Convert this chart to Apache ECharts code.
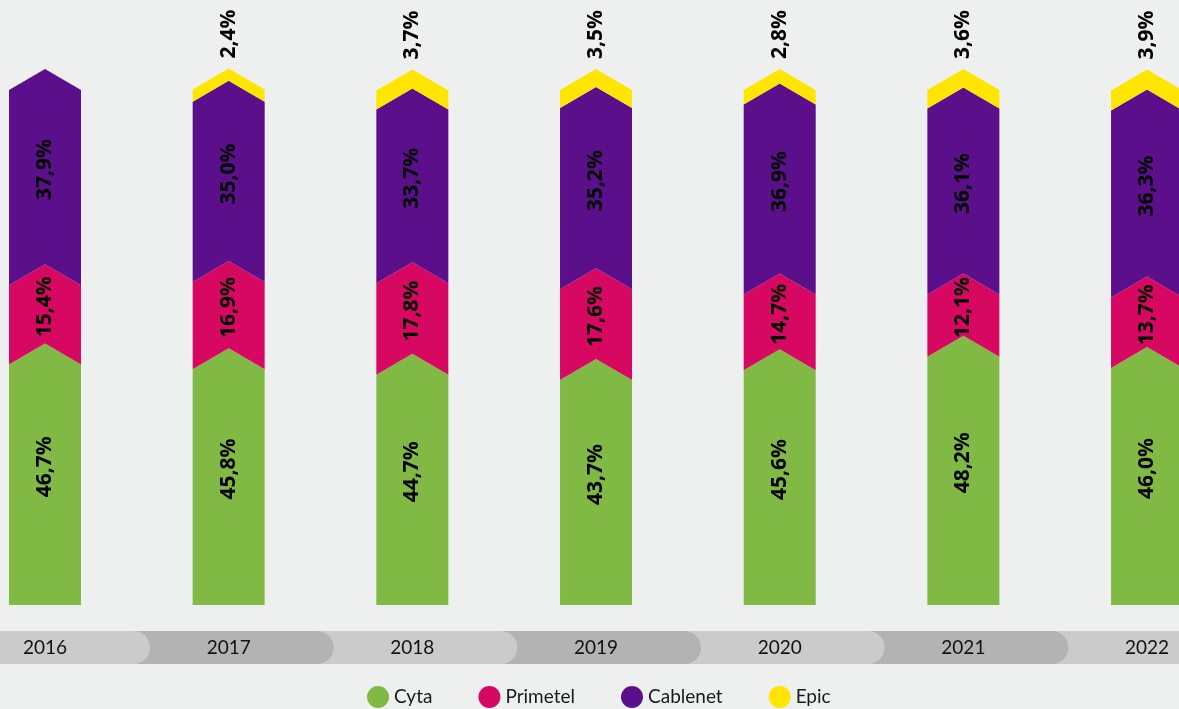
<!DOCTYPE html>
<html>
<head>
<meta charset="utf-8">
<script src="https://cdn.jsdelivr.net/npm/echarts@6/dist/echarts.min.js"></script>
<style>
html,body{margin:0;padding:0;background:#eef0ef;}
#chart{width:1179px;height:709px;}
</style>
</head>
<body>
<div id="chart"></div>
<script>
const categories = ['2016','2017','2018','2019','2020','2021','2022'];
const seriesNames = ['Cyta','Primetel','Cablenet','Epic'];
const cyta     = [46.7, 45.8, 44.7, 43.7, 45.6, 48.2, 46.0];
const primetel = [15.4, 16.9, 17.8, 17.6, 14.7, 12.1, 13.7];
const cablenet = [37.9, 35.0, 33.7, 35.2, 36.9, 36.1, 36.3];
const epic     = [0,    2.4,  3.7,  3.5,  2.8,  3.6,  3.9];
const colors = ['#80ba44','#d70862','#5c0f8b','#ffe500'];

const values = [cyta, primetel, cablenet, epic];
const FONT = 'Lato, "Open Sans", sans-serif';
const LABEL_FONT = '"Open Sans", Lato, sans-serif';
const HW = 36, PEAK = 21;

function fmt(v){ return v.toFixed(1).replace('.', ',') + '%'; }

// stacked segments
const cum = categories.map(() => 0);
const segSeries = values.map((arr, s) => {
  const data = [];
  arr.forEach((v, i) => {
    if (v > 0) {
      data.push([i, cum[i], cum[i] + v, s === 0 ? 1 : 0, v, s]);
      cum[i] += v;
    }
  });
  return {
    type: 'custom',
    name: seriesNames[s],
    itemStyle: { color: colors[s] },
    clip: false,
    data: data,
    renderItem: function (params, api) {
      const i = api.value(0), st = api.value(1), en = api.value(2), first = api.value(3), v = api.value(4), si = api.value(5);
      const pb = api.coord([i, st]), pt = api.coord([i, en]);
      const xc = pb[0], yb = pb[1], yt = pt[1];
      let pts;
      if (first) {
        pts = [[xc - HW, yb], [xc + HW, yb], [xc + HW, yt], [xc, yt - PEAK], [xc - HW, yt]];
      } else {
        pts = [[xc - HW, yb], [xc, yb - PEAK], [xc + HW, yb], [xc + HW, yt], [xc, yt - PEAK], [xc - HW, yt]];
      }
      const children = [{
        type: 'polygon',
        shape: { points: pts },
        style: { fill: colors[si] }
      }];
      if (si === 3) {
        children.push({
          type: 'text', x: xc, y: yt - PEAK - 10, rotation: Math.PI / 2,
          style: { text: fmt(v), fill: '#000', fontSize: 21, fontWeight: 'bold', fontFamily: LABEL_FONT, align: 'left', verticalAlign: 'middle' }
        });
      } else {
        children.push({
          type: 'text', x: xc, y: (yb + yt) / 2 - 18, rotation: Math.PI / 2,
          style: { text: fmt(v), fill: '#000', fontSize: 21, fontWeight: 'bold', fontFamily: LABEL_FONT, align: 'center', verticalAlign: 'middle' }
        });
      }
      return { type: 'group', children: children };
    }
  };
});

// year bands (drawn right to left so earlier bands overlap later ones)
const bandData = categories.map((c, i) => [i]).reverse();
const bandSeries = {
  type: 'custom',
  name: 'bands',
  clip: false,
  silent: true,
  data: bandData,
  renderItem: function (params, api) {
    const i = api.value(0);
    const p = api.coord([i, 0]);
    const xc = p[0];
    const left = i === 0 ? -20 : xc - 120;
    const right = xc + 105;
    return {
      type: 'group',
      children: [{
        type: 'rect',
        shape: { x: left, y: 631, width: right - left, height: 33, r: [0, 16.5, 16.5, 0] },
        style: { fill: i % 2 === 0 ? '#cbcbcb' : '#b3b3b3' }
      }, {
        type: 'text', x: xc, y: 648,
        style: { text: categories[i], fill: '#111', fontSize: 19, fontFamily: FONT, align: 'center', verticalAlign: 'middle' }
      }]
    };
  }
};

const chart = echarts.init(document.getElementById('chart'));
chart.setOption({
  backgroundColor: '#eef0ef',
  animation: false,
  grid: { left: 0, right: 0, top: 90, bottom: 104 },
  xAxis: { type: 'value', min: -0.245, max: 6.174, show: false },
  yAxis: { type: 'value', min: 0, max: 100, show: false },
  legend: {
    data: seriesNames,
    icon: 'circle',
    itemWidth: 22, itemHeight: 22,
    itemGap: 46,
    top: 681,
    left: 362,
    textStyle: { fontSize: 19, color: '#1a1a1a', fontFamily: FONT },
    selectedMode: false
  },
  series: [bandSeries].concat(segSeries)
});
</script>
</body>
</html>
